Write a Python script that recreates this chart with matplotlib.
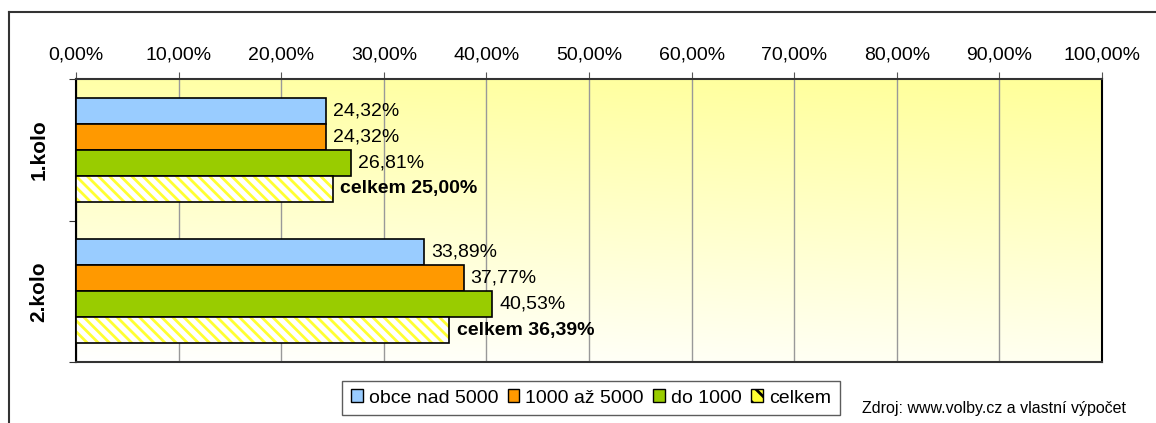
import numpy as np
import matplotlib
matplotlib.use('Agg')
import matplotlib.pyplot as plt
from matplotlib.patches import Patch

kola = ['1.kolo', '2.kolo']
serie = ['obce nad 5000', '1000 až 5000', 'do 1000', 'celkem']
obce_nad_5000 = [24.32, 33.89]
od_1000_do_5000 = [24.32, 37.77]
do_1000 = [26.81, 40.53]
celkem = [25.00, 36.39]
barvy = ['#99ccff', '#ff9900', '#99cc00', '#ffff33']

plt.rcParams['font.family'] = ['Liberation Sans', 'DejaVu Sans']
plt.rcParams['hatch.linewidth'] = 2.0

fig = plt.figure(figsize=(11.56, 4.23), dpi=100)
ax = fig.add_axes([76/1156, 1-362/423, (1102-76)/1156, (362-79)/423])

# gradient background
ny, nx = 200, 200
yy, xx = np.mgrid[0:1:ny*1j, 0:1:nx*1j]
t = np.clip(0.85*yy + 0.15*xx, 0, 1)
top = np.array([1.0, 1.0, 0.6])
bot = np.array([1.0, 1.0, 1.0])
img = bot + (top - bot)*t[..., None]
ax.imshow(img, extent=[0, 100, 1.5, -0.5], origin='lower', aspect='auto', zorder=0)

ax.set_xlim(0, 100)
ax.set_ylim(1.5, -0.5)

fs = 14
h = 0.184
y = np.arange(len(kola))
data = [obce_nad_5000, od_1000_do_5000, do_1000, celkem]
for i, vals in enumerate(data):
    pos = y + (i - 1.5)*h
    if i < 3:
        ax.barh(pos, vals, height=h, color=barvy[i], edgecolor='black', linewidth=1.2, zorder=3)
        for p, v in zip(pos, vals):
            ax.text(v + 0.7, p, ('%.2f%%' % v).replace('.', ','), va='center', ha='left',
                    fontsize=fs, zorder=4)
    else:
        ax.barh(pos, vals, height=h, color='white', edgecolor=barvy[i], hatch='\\\\\\',
                linewidth=0, zorder=3)
        ax.barh(pos, vals, height=h, fill=False, edgecolor='black', linewidth=1.2, zorder=3)
        for p, v in zip(pos, vals):
            ax.text(v + 0.7, p, 'celkem ' + ('%.2f%%' % v).replace('.', ','), va='center',
                    ha='left', fontsize=fs, fontweight='bold', zorder=4)

ax.xaxis.tick_top()
ax.set_xticks(np.arange(0, 101, 10))
ax.set_xticklabels([('%.2f%%' % v).replace('.', ',') for v in np.arange(0, 101, 10)], fontsize=fs)
ax.tick_params(axis='x', direction='out', length=5, color='#555555', pad=6)
ax.grid(axis='x', color='#999999', linewidth=1, zorder=1)

ax.set_yticks([-0.5, 0.5, 1.5])
ax.set_yticklabels([])
ax.set_yticks(y, minor=True)
ax.set_yticklabels(kola, minor=True, rotation=90, va='center', fontsize=15, fontweight='bold')
ax.tick_params(axis='y', which='minor', length=0, pad=20)
ax.tick_params(axis='y', which='major', direction='out', length=5, color='#333333')

for s in ['top', 'bottom']:
    ax.spines[s].set_color('#333333')
    ax.spines[s].set_linewidth(1.5)
for s in ['left', 'right']:
    ax.spines[s].set_color('black')
    ax.spines[s].set_linewidth(1.5)

handles = [Patch(facecolor=barvy[0], edgecolor='black'),
           Patch(facecolor=barvy[1], edgecolor='black'),
           Patch(facecolor=barvy[2], edgecolor='black'),
           Patch(facecolor=barvy[3], edgecolor='black', hatch='\\\\')]
leg = fig.legend(handles, serie, loc='center', bbox_to_anchor=(591/1156, 1-398/423), ncol=4,
                 fontsize=fs, frameon=True, fancybox=False, edgecolor='#333333',
                 handlelength=0.6, handleheight=0.6, handletextpad=0.3, columnspacing=0.5,
                 borderpad=0.45)
leg.get_frame().set_linewidth(1.0)

fig.text(862/1156, 1-408/423, 'Zdroj: www.volby.cz a vlastní výpočet', fontsize=11.5,
         va='center', ha='left')

# figure border
fig.add_artist(plt.Line2D([9/1156, 9/1156], [0, 1-12/423], color='#333333', linewidth=1.5))
fig.add_artist(plt.Line2D([9/1156, 1], [1-12/423, 1-12/423], color='#333333', linewidth=1.5))

fig.savefig('out.png', dpi=100)
